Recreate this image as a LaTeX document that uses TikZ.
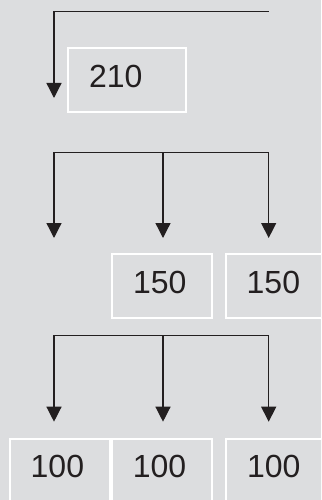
\documentclass[tikz,border=0pt]{standalone}
\usepackage{fontspec}
\setmainfont{Liberation Sans}
\usetikzlibrary{arrows.meta}
\definecolor{bggray}{RGB}{220,221,223}
\definecolor{ink}{RGB}{35,31,32}
\tikzstyle{cell} = [rectangle, draw=white, line width=1.7pt, fill=bggray, minimum height=64pt, inner xsep=21pt, text depth=8pt, align=left, text=ink, font=\fontsize{32}{38}\selectfont]
\tikzstyle{arrow} = [draw=ink, line width=1.3pt, -{Triangle[width=15pt,length=15pt]}]
\begin{document}
\begin{tikzpicture}[x=1pt, y=-1pt]
	\useasboundingbox (0,0) rectangle (321,500);
	\clip (0,0) rectangle (321,500);
	\fill[bggray] (0,0) rectangle (321,500);
	
		\node (cell210) [cell, text width=76pt] at (127,80) {210};
		
		\node (cell150a) [cell, text width=58pt] at (162,286) {150};
		\node (cell150b) [cell, text width=58pt] at (275.7,286) {150};
		
		\node (cell100a) [cell, text width=58pt] at (59.7,470.7) {100};
		\node (cell100b) [cell, text width=58pt] at (161.8,470.7) {100};
		\node (cell100c) [cell, text width=58pt] at (276,470.7) {100};
		
		\coordinate (feed) at (268.7,11.7);
		\coordinate (into210) at (54,98);
		
		\coordinate (split150) at (163,152.3);
		\coordinate (drop150l) at (54,238);
		\coordinate (drop150m) at (163,238);
		\coordinate (drop150r) at (268.7,238);
		
		\coordinate (split100) at (163,335.7);
		\coordinate (drop100l) at (54,421.7);
		\coordinate (drop100m) at (163,421.7);
		\coordinate (drop100r) at (268.7,421.7);
		
		\draw[arrow] (feed) -| (into210);
		\draw[arrow] (split150) -| (drop150l);
		\draw[arrow] (split150) -- (drop150m);
		\draw[arrow] (split150) -| (drop150r);
		\draw[arrow] (split100) -| (drop100l);
		\draw[arrow] (split100) -- (drop100m);
		\draw[arrow] (split100) -| (drop100r);
	\end{tikzpicture}
\end{document}
